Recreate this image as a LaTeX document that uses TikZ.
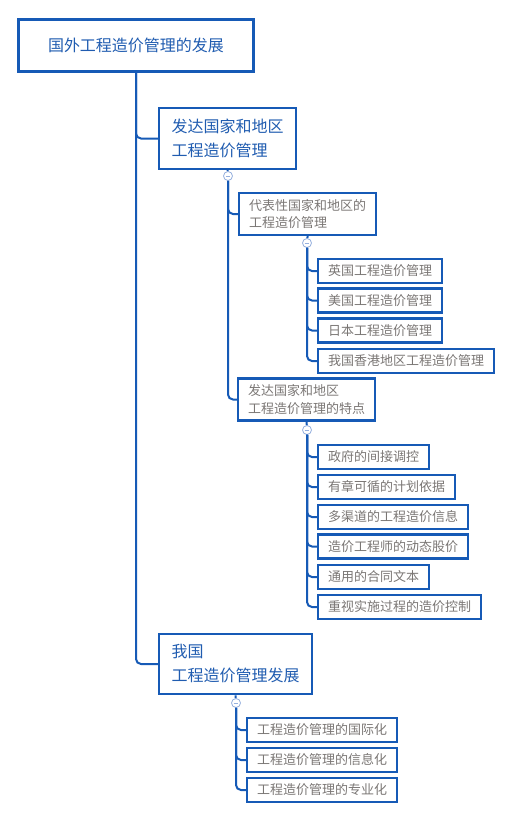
\documentclass[tikz,border=0pt]{standalone}
\usepackage{fontspec}
\newfontfamily\cjk{Noto Sans CJK SC}
\begin{document}
\begin{tikzpicture}[
    x=1pt, y=-1pt,
    font=\cjk,
    rootbox/.style={draw=mapblue, line width=3pt, minimum width=235pt, minimum height=52pt, inner sep=0pt, text=headblue, font=\cjk\fontsize{16}{20}\selectfont},
    topic/.style={draw=mapblue, line width=2.2pt, anchor=west, align=left, inner xsep=12.5pt, minimum height=60.5pt, text=headblue, font=\cjk\fontsize{16}{24}\selectfont},
    subtopic/.style={draw=mapblue, line width=2.2pt, anchor=west, align=left, inner xsep=10pt, minimum height=42pt, text=leafgray, font=\cjk\fontsize{13}{17.5}\selectfont},
    leaf/.style={draw=mapblue, line width=2.2pt, anchor=west, inner xsep=10pt, inner ysep=0pt, minimum height=24pt, text=leafgray, font=\cjk\fontsize{13}{15}\selectfont},
    fold/.style={circle, draw=foldblue, fill=white, line width=0.8pt, minimum size=9pt, inner sep=0pt, path picture={\draw[foldblue, line width=0.8pt] ([xshift=2.2pt]path picture bounding box.west) -- ([xshift=-2.2pt]path picture bounding box.east);}},
    link/.style={draw=mapblue, line width=2pt, rounded corners=5pt}
]
\definecolor{mapblue}{RGB}{22,90,182}
\definecolor{headblue}{RGB}{32,92,176}
\definecolor{leafgray}{RGB}{122,118,116}
\definecolor{foldblue}{RGB}{150,176,222}

\useasboundingbox (0,0) rectangle (512,820);

% root and main topics
\node[rootbox] (root) at (136,45.5) {国外工程造价管理的发展};
\node[topic] (abroad) at (158,138.5) {发达国家和地区\\工程造价管理};
\node[topic] (china) at (158,664) {我国\\工程造价管理发展};
\draw[link] (root.south) |- (abroad.west);
\draw[link] (root.south) |- (china.west);

% developed countries
\node[fold] (abroadfold) at (228,176) {};
\node[subtopic] (typical) at (238,214) {代表性国家和地区的\\工程造价管理};
\node[subtopic] (feature) at (237,399.5) {发达国家和地区\\工程造价管理的特点};
\draw[link] (abroad.south) -- (abroadfold);
\draw[link] (abroadfold.south) |- (typical.west);
\draw[link] (abroadfold.south) |- (feature.west);

\node[fold] (typicalfold) at (307,243) {};
\node[leaf] (uk) at (317,271) {英国工程造价管理};
\node[leaf] (us) at (317,300.5) {美国工程造价管理};
\node[leaf] (jp) at (317,330.5) {日本工程造价管理};
\node[leaf] (hk) at (317,361) {我国香港地区工程造价管理};
\draw[link] (typical.south) -- (typicalfold);
\foreach \n in {uk,us,jp,hk}
  \draw[link] (typicalfold.south) |- (\n.west);

\node[fold] (featurefold) at (307,430) {};
\node[leaf] (gov) at (317,457) {政府的间接调控};
\node[leaf] (plan) at (317,487) {有章可循的计划依据};
\node[leaf] (info) at (317,517) {多渠道的工程造价信息};
\node[leaf] (engineer) at (317,546.5) {造价工程师的动态股价};
\node[leaf] (contract) at (317,577) {通用的合同文本};
\node[leaf] (control) at (317,607) {重视实施过程的造价控制};
\draw[link] (feature.south) -- (featurefold);
\foreach \n in {gov,plan,info,engineer,contract,control}
  \draw[link] (featurefold.south) |- (\n.west);

% China
\node[fold] (chinafold) at (236,703) {};
\node[leaf] (intl) at (246,730) {工程造价管理的国际化};
\node[leaf] (digital) at (246,760) {工程造价管理的信息化};
\node[leaf] (expert) at (246,790) {工程造价管理的专业化};
\draw[link] (china.south) -- (chinafold);
\foreach \n in {intl,digital,expert}
  \draw[link] (chinafold.south) |- (\n.west);
\end{tikzpicture}
\end{document}
